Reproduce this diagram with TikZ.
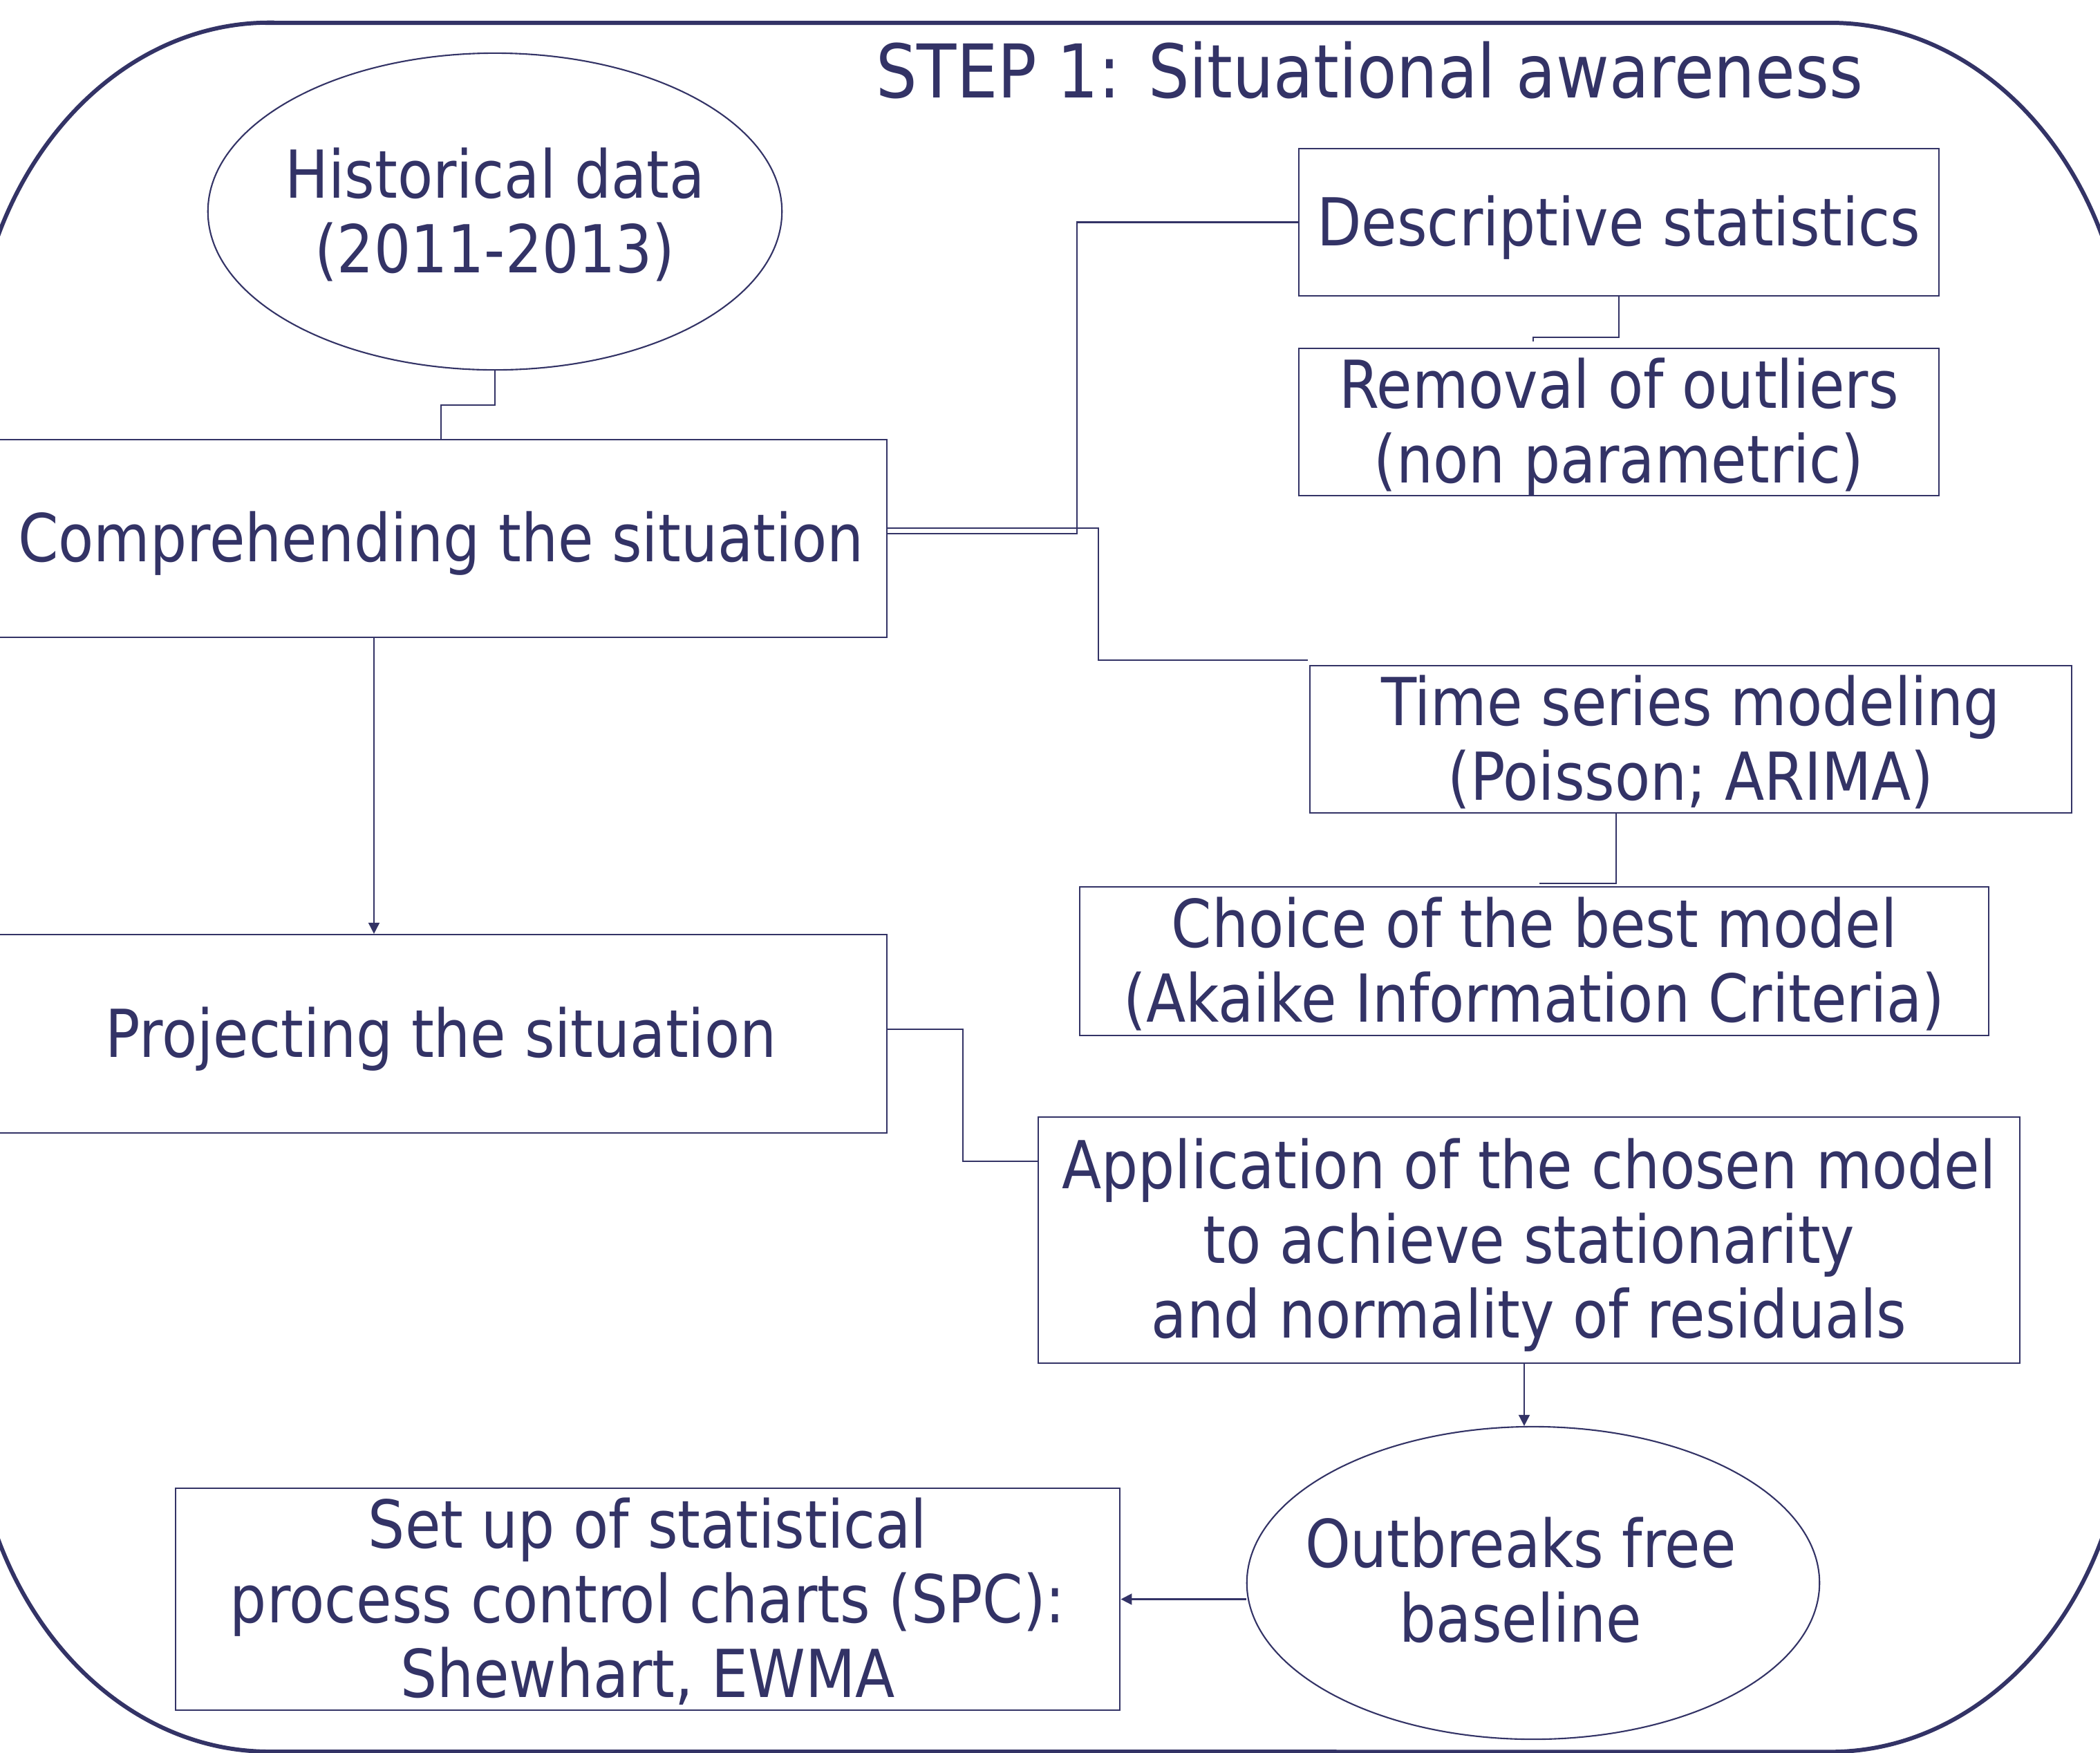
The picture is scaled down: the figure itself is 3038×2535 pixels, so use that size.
\documentclass[tikz,border=0pt]{standalone}
\usepackage{fontspec}
\setmainfont{DejaVu Sans}[FakeStretch=0.875]
\usetikzlibrary{arrows.meta,shapes.geometric,calc}
\definecolor{navy}{HTML}{333366}
\newcommand\maintext{\fontsize{27.2pt}{30.7pt}\selectfont}
\newcommand\titletext{\fontsize{30.5pt}{36pt}\selectfont}
\newcommand\topstrut{\rule{0pt}{0.95cm}}
\newcommand\botstrut{\rule[-0.28cm]{0pt}{0.28cm}}
\begin{document}
\begin{tikzpicture}[x=0.01cm,y=-0.01cm,
  box/.style={draw=navy, line width=0.6pt, rectangle, inner xsep=0pt, inner ysep=-0.3cm, align=center, text=navy, font=\maintext},
  oval/.style={draw=navy, line width=0.6pt, ellipse, inner xsep=-2cm, inner ysep=-1.2cm, align=center, text=navy, font=\maintext},
  conn/.style={draw=navy, line width=0.6pt},
  arr/.style={conn, -{Triangle[length=0.16cm,width=0.16cm]}},
  outer/.style={draw=navy, line width=1.7pt}]
\useasboundingbox (0,0) rectangle (3038,2535);
\fill[white] (0,0) rectangle (3038,2535);
\clip (0,0) rectangle (3038,2535);
% outer rounded frame
\draw[outer] (390,33) -- (2648,33)
  arc[start angle=90, end angle=0, x radius=4.3cm, y radius=5.2cm] -- (3078,2014)
  arc[start angle=0, end angle=-90, x radius=4.3cm, y radius=5.2cm] -- (390,2534)
  arc[start angle=270, end angle=180, x radius=4.3cm, y radius=5.2cm] -- (-40,553)
  arc[start angle=180, end angle=90, x radius=4.3cm, y radius=5.2cm] -- cycle;
\node[anchor=base, text=navy, font=\titletext, inner sep=0pt] (title) at (1981,141) {STEP 1: Situational awareness};
% nodes
\node[oval, minimum width=8.3cm, minimum height=4.58cm] (hist) at (716,306) {\rule{0pt}{0.82cm}Historical data\\(2011-2013)};
\node[box, minimum width=12.9cm, minimum height=2.86cm] (comp) at (638,779) {\topstrut\botstrut Comprehending the situation};
\node[box, minimum width=12.9cm, minimum height=2.87cm] (proj) at (638,1495.5) {\topstrut\botstrut Projecting the situation};
\node[box, minimum width=9.26cm, minimum height=2.13cm] (ds) at (2342,321.5) {\topstrut\botstrut Descriptive statistics};
\node[box, minimum width=9.26cm, minimum height=2.13cm] (rem) at (2342,610.5) {\topstrut Removal of outliers\\(non parametric)\botstrut};
\node[box, minimum width=11.02cm, minimum height=2.13cm] (ts) at (2446,1069.5) {\topstrut Time series modeling\\(Poisson; ARIMA)\botstrut};
\node[box, minimum width=13.15cm, minimum height=2.15cm] (choice) at (2219.5,1390.5) {\topstrut Choice of the best model\\(Akaike Information Criteria)\botstrut};
\node[box, minimum width=14.2cm, minimum height=3.56cm] (app) at (2212,1794) {\topstrut Application of the chosen model\\to achieve stationarity\\and normality of residuals\botstrut};
\node[oval, minimum width=8.28cm, minimum height=4.52cm] (out) at (2218,2290) {Outbreaks free\hspace*{0.36cm}\\baseline\hspace*{0.36cm}\rule[-0.1cm]{0pt}{0.1cm}};
\node[box, minimum width=13.66cm, minimum height=3.21cm] (setup) at (937,2313.5) {\topstrut Set up of statistical\\process control charts (SPC):\\Shewhart, EWMA\botstrut};
% connectors
\coordinate (cpx) at (541,0);
\coordinate (apx) at (2205,0);
\draw[conn] (hist.south) -- ++(0,50) -| (comp.north);
\draw[arr] (comp.south -| cpx) -- (proj.north -| cpx);
\draw[conn] ([yshift=0.07cm]comp.east) -- ++(274,0) |- (ds.west);
\draw[conn] ([yshift=0.15cm]comp.east) -- ++(305,0) |- ($(ts.north west)+(-2,-7)$);
\draw[conn] (ds.south) -- ++(0,59) -| ($(rem.north)+(-124,-9)$);
\draw[conn] ([xshift=-1.08cm]ts.south) |- ($(choice.north)+(7,-4)$);
\draw[conn] ([yshift=0.065cm]proj.east) -- ++(109,0) |- ([yshift=1.14cm]app.west);
\draw[arr] (app.south -| apx) -- (out.north -| apx);
\draw[arr] (out.west |- setup.east) -- (setup.east);
\end{tikzpicture}
\end{document}
